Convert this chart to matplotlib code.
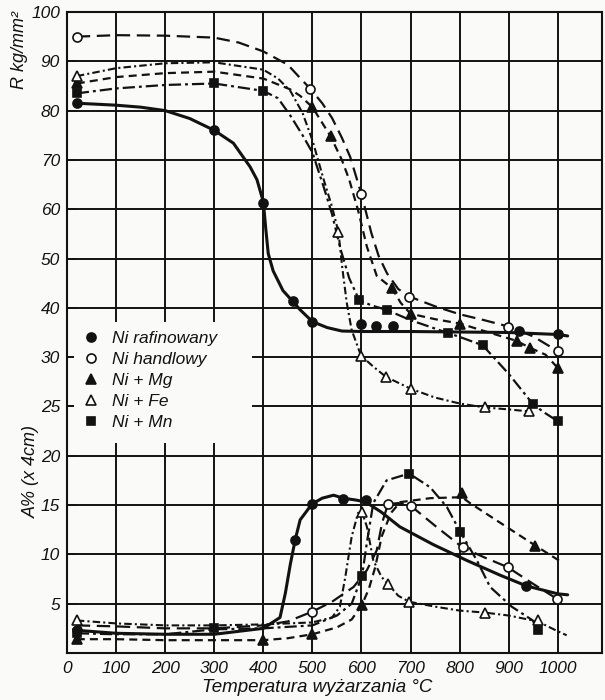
import numpy as np
import matplotlib
matplotlib.use("Agg")
import matplotlib.pyplot as plt
from matplotlib.lines import Line2D
from matplotlib.patches import Rectangle
from matplotlib import font_manager

# ---------------- data ----------------
labels = ["Ni rafinowany", "Ni handlowy", "Ni + Mg", "Ni + Fe", "Ni + Mn"]
x_ticks = [0, 100, 200, 300, 400, 500, 600, 700, 800, 900, 1000]
y_ticks = [5, 10, 15, 20, 25, 30, 40, 50, 60, 70, 80, 90, 100]

# --- R kg/mm2 (upper curves): line paths and measured points
raf_R_line_t = [20, 100, 150, 200, 250, 300, 339, 373, 387, 400, 405, 410, 420, 440, 460, 475, 500, 530, 560, 600, 700, 800, 900, 1000, 1020]
raf_R_line_v = [81.5, 81.1, 80.7, 80.0, 78.4, 76.0, 73.4, 68.6, 66.0, 61.5, 56.0, 51.0, 47.5, 43.5, 41.3, 39.6, 37.2, 36.0, 35.3, 35.2, 35.2, 35.1, 35.0, 34.6, 34.3]
raf_R_pts_t = [20, 300, 400, 460, 500, 600, 630, 665, 920, 1000]
raf_R_pts_v = [81.5, 76.0, 61.2, 41.3, 37.2, 36.8, 36.4, 36.4, 35.4, 34.6]

hand_R_line_t = [20, 100, 200, 300, 350, 400, 450, 475, 496, 520, 540, 560, 577, 600, 620, 635, 652, 675, 700, 750, 800, 850, 900, 950, 1000]
hand_R_line_v = [95.0, 95.3, 95.2, 94.8, 93.8, 92.0, 89.3, 86.6, 84.4, 81.5, 78.5, 74.5, 70.6, 63.0, 55.2, 50.5, 47.0, 43.8, 42.2, 40.3, 38.7, 37.5, 36.2, 34.2, 31.2]
hand_R_pts_t = [20, 496, 599, 697, 898, 1000]
hand_R_pts_v = [95.0, 84.4, 63.0, 42.2, 36.2, 31.2]

mg_R_line_t = [20, 100, 200, 300, 400, 455, 475, 500, 537, 560, 575, 593, 611, 631, 662, 680, 700, 750, 801, 850, 916, 943, 975, 1000]
mg_R_line_v = [85.5, 86.8, 87.6, 87.9, 86.5, 84.3, 83.0, 80.7, 74.8, 70.0, 66.0, 59.8, 52.4, 46.5, 44.0, 41.0, 38.8, 37.7, 36.8, 35.3, 33.3, 31.9, 30.5, 28.9]
mg_R_pts_t = [20, 500, 537, 662, 701, 801, 916, 943, 1000]
mg_R_pts_v = [85.5, 80.7, 74.8, 44.0, 38.8, 36.8, 33.3, 31.9, 28.9]

fe_R_line_t = [20, 100, 200, 300, 400, 430, 455, 480, 500, 523, 540, 553, 561, 570, 580, 599, 625, 650, 700, 750, 800, 851, 900, 941]
fe_R_line_v = [87.0, 88.6, 89.6, 89.8, 88.3, 86.5, 84.0, 79.5, 74.0, 66.0, 60.5, 55.4, 48.0, 41.0, 35.5, 30.3, 29.0, 28.0, 26.8, 25.9, 25.3, 24.9, 24.7, 24.5]
fe_R_pts_t = [20, 553, 599, 650, 700, 851, 941]
fe_R_pts_v = [87.0, 55.4, 30.3, 28.0, 26.8, 24.9, 24.5]

mn_R_line_t = [20, 100, 200, 300, 400, 430, 455, 480, 500, 523, 540, 557, 575, 595, 620, 651, 700, 776, 800, 847, 900, 950, 975, 1000]
mn_R_line_v = [83.5, 84.5, 85.2, 85.5, 84.0, 82.5, 79.0, 75.0, 71.5, 64.5, 59.0, 52.0, 46.0, 41.6, 40.5, 39.6, 37.5, 34.9, 34.1, 32.4, 28.3, 25.2, 24.3, 23.5]
mn_R_pts_t = [20, 300, 400, 595, 651, 776, 847, 950, 1000]
mn_R_pts_v = [83.5, 85.5, 84.0, 41.6, 39.6, 34.9, 32.4, 25.2, 23.5]

# --- A % (x 4cm) (lower curves)
raf_A_line_t = [20, 100, 200, 300, 400, 434, 445, 455, 465, 475, 499, 520, 543, 563, 590, 609, 640, 678, 746, 814, 882, 936, 1000, 1020]
raf_A_line_v = [2.3, 2.0, 1.9, 1.9, 2.5, 3.6, 6.1, 9.0, 11.5, 13.5, 15.1, 15.7, 16.0, 15.7, 15.5, 15.3, 14.3, 12.8, 11.0, 9.4, 7.9, 6.8, 6.0, 5.9]
raf_A_pts_t = [20, 465, 499, 563, 609, 936]
raf_A_pts_v = [2.3, 11.5, 15.1, 15.6, 15.5, 6.8]

hand_A_line_t = [20, 100, 200, 300, 400, 450, 500, 540, 584, 611, 631, 642, 654, 675, 701, 750, 806, 850, 898, 950, 998]
hand_A_line_v = [2.8, 2.7, 2.5, 2.5, 2.8, 3.2, 4.2, 5.2, 6.7, 8.4, 10.4, 13.2, 15.1, 15.2, 14.9, 12.9, 10.7, 9.7, 8.7, 7.0, 5.5]
hand_A_pts_t = [500, 654, 701, 806, 898, 998]
hand_A_pts_v = [4.2, 15.1, 14.9, 10.7, 8.7, 5.5]

mg_A_line_t = [20, 100, 200, 300, 400, 450, 500, 550, 580, 601, 615, 628, 641, 660, 679, 740, 805, 821, 889, 954, 1008]
mg_A_line_v = [1.4, 1.4, 1.3, 1.3, 1.3, 1.5, 1.9, 2.6, 3.4, 4.9, 6.5, 8.7, 11.8, 14.2, 15.3, 15.7, 15.8, 15.2, 13.0, 10.9, 9.2]
mg_A_pts_t = [20, 400, 500, 601, 805, 954]
mg_A_pts_v = [1.4, 1.3, 1.9, 4.9, 16.2, 10.9]

fe_A_line_t = [20, 100, 200, 300, 400, 500, 540, 556, 567, 580, 593, 601, 611, 624, 641, 654, 675, 697, 750, 800, 851, 900, 959, 1000, 1018]
fe_A_line_v = [3.3, 3.0, 2.8, 2.8, 2.9, 3.1, 3.6, 4.7, 7.7, 11.8, 14.2, 14.3, 12.8, 9.4, 7.7, 7.0, 5.8, 5.2, 4.7, 4.3, 4.1, 3.8, 3.2, 2.2, 1.8]
fe_A_pts_t = [20, 601, 654, 697, 851, 959]
fe_A_pts_v = [3.3, 14.3, 7.0, 5.2, 4.1, 3.3]

mn_A_line_t = [20, 100, 200, 300, 400, 500, 550, 580, 601, 611, 624, 651, 697, 740, 774, 801, 835, 862, 906, 949, 959]
mn_A_line_v = [2.0, 1.9, 1.9, 2.4, 2.5, 2.8, 3.8, 5.0, 7.8, 11.2, 15.2, 17.5, 18.2, 16.8, 14.8, 12.3, 9.4, 6.7, 4.7, 3.3, 2.3]
mn_A_pts_t = [20, 300, 601, 697, 801, 959]
mn_A_pts_v = [2.0, 2.5, 7.8, 18.2, 12.3, 2.3]

# ---------------- styling ----------------
names = {f.name for f in font_manager.fontManager.ttflist}
tick_font = "Liberation Sans Narrow" if "Liberation Sans Narrow" in names else "Liberation Sans"
plt.rcParams["font.family"] = ["Liberation Sans", "DejaVu Sans"]
plt.rcParams["font.style"] = "italic"

INK = "#121212"
BG = "#fafaf8"

styles = {
    "raf":  dict(ls="-", lw=2.2, marker="o", mfc=INK),
    "hand": dict(ls=(0, (6, 3)), lw=1.6, marker="o", mfc="white"),
    "mg":   dict(ls=(0, (3.6, 2.3)), lw=1.6, marker="^", mfc=INK),
    "fe":   dict(ls=(0, (3.6, 1.5, 1.0, 1.5)), lw=1.5, marker="^", mfc="white"),
    "mn":   dict(ls=(0, (5.5, 1.8, 1.3, 1.8)), lw=1.6, marker="s", mfc=INK),
}
msize = {"o": 6.5, "^": 6.8, "s": 6.0}

fig = plt.figure(figsize=(6.05, 7.0), dpi=100, facecolor=BG)
ax = fig.add_axes([67 / 605, 1 - 653 / 700, 535 / 605, 641 / 700], facecolor=BG)

# vertical scale: 10 kg/mm2 per grid above 30, 5 units per grid below 30
# (the lower part is shared by A % and R, both at 5 units per grid line)
def fwd(v):
    v = np.asarray(v, dtype=float)
    return np.where(v >= 30, 6 + (v - 30) / 10.0, v / 5.0)

def inv(g):
    g = np.asarray(g, dtype=float)
    return np.where(g >= 6, 30 + (g - 6) * 10.0, g * 5.0)

ax.set_yscale("function", functions=(fwd, inv))
ax.set_ylim(0, 100)
ax.set_xlim(0, 1090)

series = [
    ("raf", raf_R_line_t, raf_R_line_v, raf_R_pts_t, raf_R_pts_v),
    ("hand", hand_R_line_t, hand_R_line_v, hand_R_pts_t, hand_R_pts_v),
    ("mg", mg_R_line_t, mg_R_line_v, mg_R_pts_t, mg_R_pts_v),
    ("fe", fe_R_line_t, fe_R_line_v, fe_R_pts_t, fe_R_pts_v),
    ("mn", mn_R_line_t, mn_R_line_v, mn_R_pts_t, mn_R_pts_v),
    ("raf", raf_A_line_t, raf_A_line_v, raf_A_pts_t, raf_A_pts_v),
    ("hand", hand_A_line_t, hand_A_line_v, hand_A_pts_t, hand_A_pts_v),
    ("mg", mg_A_line_t, mg_A_line_v, mg_A_pts_t, mg_A_pts_v),
    ("fe", fe_A_line_t, fe_A_line_v, fe_A_pts_t, fe_A_pts_v),
    ("mn", mn_A_line_t, mn_A_line_v, mn_A_pts_t, mn_A_pts_v),
]
for key, lt, lv, pt, pv in series:
    st = styles[key]
    ax.plot(lt, lv, color=INK, ls=st["ls"], lw=st["lw"], zorder=3,
            solid_capstyle="round", solid_joinstyle="round", dash_capstyle="butt")
    ax.plot(pt, pv, ls="none", marker=st["marker"], ms=msize[st["marker"]],
            mfc=st["mfc"], mec=INK, mew=1.2, zorder=4)

# grid and frame
ax.set_axisbelow(True)
ax.set_xticks(x_ticks)
ax.set_yticks(y_ticks)
ax.set_xticklabels([str(t) for t in x_ticks])
ax.set_yticklabels([str(t) for t in y_ticks])
ax.grid(True, color=INK, lw=1.4)
for sp in ax.spines.values():
    sp.set_color(INK)
    sp.set_linewidth(1.5)
ax.tick_params(axis="y", direction="in", length=7, width=1.2, color=INK, pad=5)
ax.tick_params(axis="x", length=0, pad=6)
for lbl in ax.get_xticklabels() + ax.get_yticklabels():
    lbl.set_fontfamily([tick_font, "DejaVu Sans"])
    lbl.set_fontstyle("italic")
    lbl.set_fontsize(12.5)
    lbl.set_color(INK)

# blank area behind the legend (grid interrupted)
ax.add_patch(Rectangle((7 / 535, (653 - 443) / 641), 178 / 535, 121 / 641,
                       transform=ax.transAxes, facecolor=BG, edgecolor="none", zorder=1))

handles = []
for key in ["raf", "hand", "mg", "fe", "mn"]:
    st = styles[key]
    handles.append(Line2D([], [], ls="none", marker=st["marker"], ms=msize[st["marker"]],
                          mfc=st["mfc"], mec=INK, mew=1.2))
leg = fig.legend(handles, labels, loc="upper left", bbox_to_anchor=(82 / 605, 1 - 331 / 700),
                 bbox_transform=fig.transFigure, frameon=False, borderpad=0, borderaxespad=0,
                 handlelength=1.0, handletextpad=0.75, labelspacing=0.33,
                 prop=dict(family=["Liberation Sans", "DejaVu Sans"], style="italic", size=12.5))
for t in leg.get_texts():
    t.set_color(INK)

# axis titles
fig.text(20 / 605, 1 - 50 / 700, "R kg/mm²", rotation=90, ha="center", va="center",
         fontsize=13, style="italic", color=INK)
fig.text(31 / 605, 1 - 471 / 700, "A% (x 4cm)", rotation=90, ha="center", va="center",
         fontsize=13, style="italic", color=INK)
fig.text(317 / 605, 1 - 687 / 700, "Temperatura wyżarzania °C", ha="center", va="center",
         fontsize=13.5, style="italic", color=INK)

fig.savefig("out.png", dpi=100, facecolor=BG)
